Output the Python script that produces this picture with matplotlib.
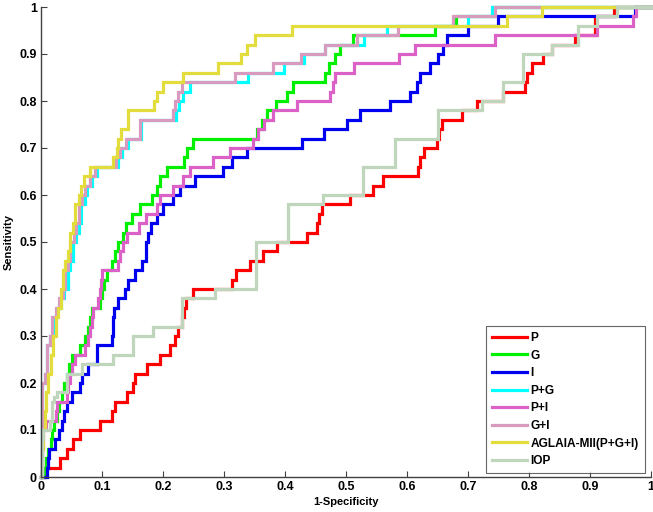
import matplotlib
matplotlib.use("Agg")
import matplotlib.pyplot as plt

# ROC staircase corner points: (fpr, tpr) = start of each horizontal run
p_fpr = [0.0, 0.007, 0.031, 0.043, 0.052, 0.064, 0.097, 0.116, 0.121, 0.141, 0.151, 0.154, 0.174, 0.195,
         0.211, 0.220, 0.225, 0.231, 0.234, 0.238, 0.249, 0.313, 0.320, 0.343, 0.364, 0.387, 0.436, 0.452,
         0.456, 0.461, 0.507, 0.544, 0.561, 0.618, 0.622, 0.628, 0.649, 0.652, 0.657, 0.690, 0.715, 0.757,
         0.793, 0.797, 0.805, 0.823, 0.838, 0.875, 0.908, 0.940, 1.0]
p_tpr = [0.0, 0.02, 0.04, 0.06, 0.08, 0.10, 0.12, 0.14, 0.16, 0.18, 0.20, 0.22, 0.24, 0.26,
         0.28, 0.30, 0.32, 0.34, 0.36, 0.38, 0.40, 0.42, 0.44, 0.46, 0.48, 0.50, 0.52, 0.54,
         0.56, 0.58, 0.60, 0.62, 0.64, 0.66, 0.68, 0.70, 0.72, 0.74, 0.76, 0.78, 0.80, 0.82,
         0.84, 0.86, 0.88, 0.90, 0.92, 0.94, 0.98, 1.0, 1.0]

g_fpr = [0.0, 0.005, 0.008, 0.012, 0.016, 0.018, 0.022, 0.026, 0.030, 0.034, 0.038, 0.042, 0.046, 0.050,
         0.064, 0.072, 0.077, 0.080, 0.083, 0.097, 0.100, 0.104, 0.108, 0.116, 0.122, 0.126, 0.134, 0.140,
         0.149, 0.162, 0.182, 0.190, 0.195, 0.207, 0.234, 0.239, 0.249, 0.354, 0.362, 0.370, 0.385, 0.403,
         0.413, 0.466, 0.472, 0.482, 0.490, 0.511, 0.646, 0.680, 0.743, 0.752, 1.0]
g_tpr = [0.0, 0.02, 0.04, 0.06, 0.08, 0.10, 0.12, 0.14, 0.16, 0.18, 0.20, 0.22, 0.24, 0.26,
         0.28, 0.30, 0.32, 0.34, 0.36, 0.38, 0.40, 0.42, 0.44, 0.46, 0.48, 0.50, 0.52, 0.54,
         0.56, 0.58, 0.60, 0.62, 0.64, 0.66, 0.68, 0.70, 0.72, 0.74, 0.76, 0.78, 0.80, 0.82,
         0.84, 0.86, 0.88, 0.90, 0.92, 0.94, 0.96, 0.98, 1.0, 1.0, 1.0]

i_fpr = [0.0, 0.010, 0.011, 0.013, 0.023, 0.030, 0.034, 0.038, 0.043, 0.051, 0.064, 0.067, 0.077, 0.092,
         0.116, 0.118, 0.120, 0.126, 0.138, 0.143, 0.154, 0.166, 0.172, 0.176, 0.180, 0.190, 0.200, 0.216,
         0.228, 0.252, 0.298, 0.313, 0.338, 0.428, 0.464, 0.502, 0.523, 0.572, 0.605, 0.616, 0.621, 0.638,
         0.651, 0.659, 0.666, 0.700, 0.749, 0.974, 1.0]
i_tpr = [0.0, 0.02, 0.04, 0.06, 0.08, 0.10, 0.12, 0.14, 0.16, 0.18, 0.20, 0.22, 0.24, 0.28,
         0.30, 0.34, 0.36, 0.38, 0.40, 0.42, 0.44, 0.46, 0.50, 0.52, 0.54, 0.56, 0.58, 0.60,
         0.62, 0.64, 0.66, 0.68, 0.70, 0.72, 0.74, 0.76, 0.78, 0.80, 0.82, 0.84, 0.86, 0.88,
         0.90, 0.92, 0.94, 0.96, 0.98, 1.0, 1.0]

pg_fpr = [0.0, 0.002, 0.006, 0.010, 0.014, 0.020, 0.026, 0.032, 0.038, 0.044, 0.048, 0.052, 0.058, 0.062,
          0.066, 0.072, 0.076, 0.084, 0.092, 0.126, 0.132, 0.142, 0.164, 0.221, 0.226, 0.232, 0.244, 0.339,
          0.399, 0.431, 0.465, 0.530, 0.567, 0.700, 0.740, 1.0]
pg_tpr = [0.0, 0.20, 0.22, 0.28, 0.30, 0.34, 0.36, 0.38, 0.40, 0.44, 0.46, 0.50, 0.52, 0.54,
          0.58, 0.60, 0.62, 0.64, 0.66, 0.68, 0.70, 0.72, 0.76, 0.78, 0.80, 0.82, 0.84, 0.86,
          0.88, 0.90, 0.92, 0.94, 0.96, 0.98, 1.0, 1.0]

pi_fpr = [0.0, 0.002, 0.004, 0.009, 0.024, 0.026, 0.043, 0.045, 0.047, 0.050, 0.056, 0.072, 0.077, 0.080,
          0.083, 0.085, 0.094, 0.096, 0.098, 0.100, 0.126, 0.129, 0.134, 0.141, 0.160, 0.172, 0.190, 0.195,
          0.216, 0.233, 0.244, 0.282, 0.310, 0.348, 0.356, 0.365, 0.380, 0.420, 0.474, 0.478, 0.482, 0.513,
          0.587, 0.613, 0.744, 0.912, 0.970, 0.975, 1.0]
pi_tpr = [0.0, 0.06, 0.10, 0.12, 0.14, 0.16, 0.18, 0.20, 0.22, 0.24, 0.26, 0.28, 0.30, 0.32,
          0.34, 0.36, 0.38, 0.40, 0.42, 0.44, 0.46, 0.48, 0.50, 0.52, 0.54, 0.56, 0.58, 0.60,
          0.62, 0.64, 0.66, 0.68, 0.70, 0.72, 0.74, 0.76, 0.78, 0.80, 0.82, 0.84, 0.86, 0.88,
          0.90, 0.92, 0.94, 0.96, 0.98, 1.0, 1.0]

gi_fpr = [0.0, 0.002, 0.006, 0.010, 0.014, 0.018, 0.024, 0.030, 0.036, 0.040, 0.044, 0.048, 0.054, 0.058,
          0.062, 0.068, 0.072, 0.080, 0.088, 0.123, 0.130, 0.140, 0.162, 0.217, 0.220, 0.225, 0.231, 0.318,
          0.381, 0.427, 0.466, 0.518, 0.585, 0.675, 0.744, 1.0]
gi_tpr = [0.0, 0.20, 0.22, 0.28, 0.30, 0.34, 0.36, 0.38, 0.40, 0.44, 0.46, 0.50, 0.52, 0.54,
          0.58, 0.60, 0.62, 0.64, 0.66, 0.68, 0.70, 0.72, 0.76, 0.78, 0.80, 0.82, 0.84, 0.86,
          0.88, 0.90, 0.92, 0.94, 0.96, 0.98, 1.0, 1.0]

ag_fpr = [0.0, 0.002, 0.004, 0.006, 0.009, 0.012, 0.016, 0.020, 0.024, 0.028, 0.033, 0.036, 0.040, 0.044,
          0.048, 0.052, 0.056, 0.062, 0.066, 0.070, 0.080, 0.118, 0.124, 0.127, 0.131, 0.143, 0.185, 0.190,
          0.200, 0.233, 0.290, 0.328, 0.337, 0.351, 0.411, 0.764, 0.821, 1.0]
ag_tpr = [0.0, 0.06, 0.10, 0.14, 0.18, 0.22, 0.26, 0.30, 0.34, 0.36, 0.40, 0.44, 0.46, 0.48,
          0.52, 0.54, 0.58, 0.60, 0.62, 0.64, 0.66, 0.68, 0.70, 0.72, 0.74, 0.78, 0.80, 0.82,
          0.84, 0.86, 0.88, 0.90, 0.92, 0.94, 0.96, 0.98, 1.0, 1.0]

iop_fpr = [0.0, 0.001, 0.003, 0.015, 0.018, 0.022, 0.026, 0.043, 0.067, 0.118, 0.151, 0.184, 0.231, 0.285,
           0.352, 0.405, 0.462, 0.528, 0.580, 0.651, 0.723, 0.757, 0.790, 0.838, 0.880, 0.911, 0.944, 1.0]
iop_tpr = [0.0, 0.08, 0.10, 0.12, 0.16, 0.17, 0.18, 0.22, 0.24, 0.26, 0.30, 0.32, 0.38, 0.40,
           0.50, 0.58, 0.60, 0.66, 0.72, 0.78, 0.80, 0.84, 0.90, 0.92, 0.96, 0.98, 1.0, 1.0]

series_labels = ["P", "G", "I", "P+G", "P+I", "G+I", "AGLAIA-MII(P+G+I)", "IOP"]
series_colors = ["#FF0000", "#00F000", "#0000F0", "#00FFFF", "#DB61C6", "#D99AC0", "#E2DC3C", "#BFD6BC"]
ticks = [0, 0.1, 0.2, 0.3, 0.4, 0.5, 0.6, 0.7, 0.8, 0.9, 1]
tick_labels = ["0", "0.1", "0.2", "0.3", "0.4", "0.5", "0.6", "0.7", "0.8", "0.9", "1"]

plt.rcParams['font.family'] = ['Liberation Sans', 'DejaVu Sans']

fig = plt.figure(figsize=(6.53, 5.12), dpi=100)
ax = fig.add_axes([41 / 653, 35 / 512, 610 / 653, 470 / 512])

data = [(p_fpr, p_tpr), (g_fpr, g_tpr), (i_fpr, i_tpr), (pg_fpr, pg_tpr),
        (pi_fpr, pi_tpr), (gi_fpr, gi_tpr), (ag_fpr, ag_tpr), (iop_fpr, iop_tpr)]
for (fx, ty), lab, col in zip(data, series_labels, series_colors):
    n = min(len(fx), len(ty))
    ax.plot(fx[:n], ty[:n], drawstyle='steps-post', color=col, lw=2.3, label=lab,
            clip_on=False, solid_joinstyle='miter')

ax.set_xlim(0, 1)
ax.set_ylim(0, 1)
ax.set_xticks(ticks)
ax.set_xticklabels(tick_labels)
ax.set_yticks(ticks)
ax.set_yticklabels(tick_labels)
for s in ['top', 'right']:
    ax.spines[s].set_visible(False)
for s in ['left', 'bottom']:
    ax.spines[s].set_color('#404040')
    ax.spines[s].set_linewidth(1.0)
ax.tick_params(direction='in', length=4, width=0.8, color='#404040', labelsize=9, pad=3)
for t in ax.get_xticklabels() + ax.get_yticklabels():
    t.set_fontweight('bold')

ax.set_xlabel("1-Specificity", fontsize=8, fontweight='bold', labelpad=3)
ax.set_ylabel("Sensitivity", fontsize=8, fontweight='bold', labelpad=4)

leg = ax.legend(loc='lower right', bbox_to_anchor=(0.99, 0.008),
                prop={'weight': 'bold', 'size': 8.6}, frameon=True, fancybox=False,
                handlelength=2.9, handletextpad=0.3, labelspacing=0.47, borderpad=0.5,
                borderaxespad=0)
leg.get_frame().set_edgecolor('#404040')
leg.get_frame().set_linewidth(0.8)
for h in leg.get_lines():
    h.set_linewidth(2.3)

fig.savefig("out.png", dpi=100, facecolor='white')
